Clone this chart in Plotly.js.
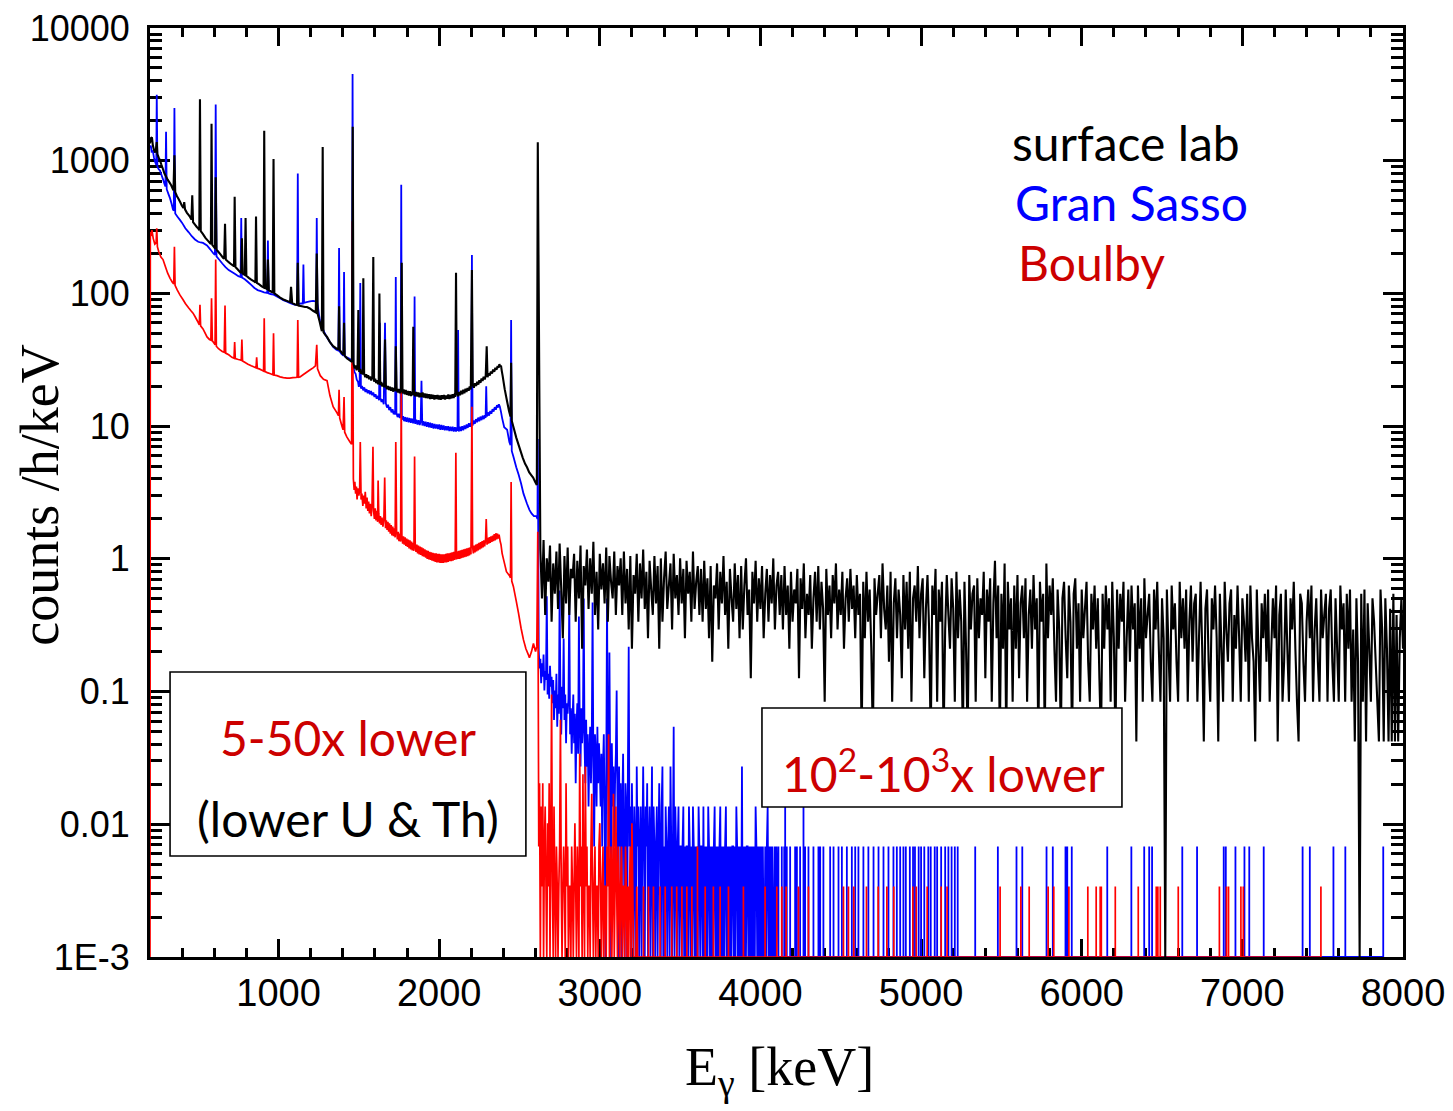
<!DOCTYPE html>
<html><head><meta charset="utf-8">
<script src="https://cdn.plot.ly/plotly-3.0.1.min.js"></script>
<style>html,body{margin:0;padding:0;background:#fff}#chart{width:1453px;height:1111px}</style>
</head><body><div id="chart"></div>
<script>
// ---------- DATA ----------
// Low-energy part: [energy keV, counts/h/keV]
const blackLow = [[200,1350],[206,1480],[212,1500],[218,1300],[225,1200],[232,1150],[238,1250],[242,1380],[246,1120],[255,1050],[262,1010],[270,940],[280,870],[290,800],[300,760],[310,720],[320,690],[330,660],[340,620],[346,600],[352,1100],[357,580],[368,540],[378,515],[387,490],[398,460],[408,440],[413,488],[418,430],[430,405],[440,390],[449,377],[458,360],[463,550],[468,345],[480,330],[490,318],[499,310],[507,300],[511,2900],[516,295],[530,280],[545,262],[560,250],[573,240],[579,236],[583,1900],[588,232],[600,222],[605,218],[609,750],[614,214],[625,206],[640,196],[654,186],[662,183],[667,335],[672,180],[690,172],[705,166],[718,162],[723,160],[727,535],[732,158],[745,152],[760,145],[768,143],[772,260],[777,141],[790,138],[795,370],[800,136],[815,131],[830,127],[845,124],[856,121],[860,380],[865,120],[880,117],[895,113],[907,111],[911,1680],[916,110],[928,108],[934,180],[940,106],[955,103],[964,102],[969,1030],[974,100],[990,97],[1010,93],[1030,90],[1050,88],[1072,86],[1078,112],[1085,85],[1100,83],[1115,82],[1120,170],[1125,81],[1145,80],[1165,79],[1177,79],[1195,77],[1215,74],[1232,72],[1238,200],[1244,70],[1255,62],[1265,55],[1270,52],[1275,1270],[1280,51],[1290,49],[1302,47],[1320,43],[1340,40],[1360,38.5],[1373,38],[1377,80],[1381,37.5],[1395,35.5],[1404,34.5],[1408,60],[1412,34],[1425,32.5],[1440,31.5],[1457,30.5],[1462,1800],
[1467,29.5],[1474,27.2],[1480,28.6],[1486,26.4],[1492,27.5],[1497,75],[1502,25.6],[1508,26.9],[1515,24.8],[1520,26.1],[1524,24.5],[1528,130],[1533,24.9],[1540,23.4],[1546,24.6],[1552,23.1],[1558,24.2],[1564,22.6],[1570,23.7],[1577,22.1],[1584,23.2],[1590,188],[1595,21.6],[1602,22.8],[1608,21.1],[1614,22.2],[1620,20.7],[1624,21.8],[1628,100],[1633,20.4],[1640,21.5],[1646,19.9],[1652,21.0],[1658,19.6],[1663,45],[1668,20.5],[1675,19.0],[1682,20.1],[1688,18.7],[1694,19.8],[1700,18.5],[1707,19.6],[1713,18.2],[1720,19.4],[1726,18.3],[1730,40],[1735,19.2],[1742,17.9],[1748,19.0],[1755,17.7],[1762,18.8],[1767,170],[1772,17.6],[1779,18.9],[1786,17.4],[1792,18.7],[1799,17.2],[1805,18.4],[1812,17.0],[1818,18.3],[1825,16.9],[1831,18.2],[1835,17.1],[1839,56],[1844,18.0],[1850,16.8],[1857,18.1],[1864,16.7],[1870,17.9],[1877,16.5],[1884,17.8],[1890,16.6],[1897,17.9],[1904,16.4],[1910,17.6],[1917,16.3],[1924,17.5],[1930,16.2],[1937,17.4],[1944,16.0],[1950,17.3],[1957,16.1],[1964,17.2],[1970,15.9],[1977,17.1],[1984,16.0],[1990,17.2],[1997,15.9],[2004,17.0],[2010,15.8],[2017,17.1],[2024,16.0],[2030,17.2],[2037,15.9],[2044,17.0],[2050,16.1],[2057,17.3],[2064,16.0],[2070,17.2],[2077,16.2],[2084,17.4],[2090,16.3],[2097,17.5],[2100,16.6],[2105,143],[2110,17.7],[2117,16.8],[2124,18.1],[2130,17.1],[2137,18.5],[2144,17.4],[2150,18.8],[2157,17.7],[2164,19.1],[2170,18.1],[2177,19.4],[2184,18.5],[2190,19.9],[2197,18.9],[2204,150],[2209,20.4],[2216,19.5],[2223,21.0],[2230,20.1],[2237,21.6],[2244,20.6],[2250,22.2],[2257,21.2],[2264,22.8],[2270,21.9],[2277,23.5],[2284,22.5],[2290,24.1],[2296,40],[2301,23.4],[2308,25.0],[2315,24.1],[2322,25.8],[2329,24.9],[2336,26.7],[2343,25.7],[2350,27.5],[2357,26.6],[2364,28.4],[2370,27.5],[2375,29.3],[2380,28.0],[2385,28.6],[2390,26],[2395,24],
[2408,19],[2420,16],[2435,13],[2444,11.8],[2448,30],[2452,11],[2465,9.6],[2480,8.2],[2495,7.2],[2505,6.6],[2520,5.8],[2535,5.2],[2547,4.9],[2560,4.5],[2572,4.3],[2585,4.1],[2598,3.8],[2608,3.6],[2614,1380]];

const blueLow = [[200,1250],[205,1300],[210,1170],[218,1180],[225,1050],[232,980],[239,930],[242,3140],[246,900],[255,860],[262,845],[270,790],[280,730],[288,680],[296,640],[300,1650],[304,610],[315,560],[325,520],[335,470],[343,430],[348,420],[352,2500],[357,400],[370,380],[385,360],[400,340],[420,310],[440,290],[460,270],[480,255],[500,245],[515,242],[530,240],[555,230],[575,215],[595,200],[604,195],[609,2650],[614,190],[630,180],[650,168],[670,158],[690,150],[710,145],[730,140],[750,135],[764,133],[768,370],[772,132],[790,128],[810,122],[830,116],[850,110],[870,106],[890,104],[910,102],[930,101],[934,250],[938,100],[950,99],[970,98],[990,95],[1010,92],[1030,89],[1050,87],[1070,85],[1090,83],[1105,82],[1116,82],[1120,800],[1124,83],[1140,84],[1151,84],[1155,165],[1159,85],[1175,86],[1195,87],[1215,88],[1230,87],[1235,87],[1238,370],[1242,85],[1250,72],[1258,62],[1270,56],[1285,51],[1300,47],[1320,43],[1340,39.5],[1360,37.6],[1373,37],[1377,220],[1381,36.5],[1392,35],[1404,34],[1408,145],[1412,33.5],[1425,33],[1445,32],[1457,31.5],[1461,4500],
[1466,28],[1473,25.5],[1480,24.8],[1487,22.4],[1495,21.6],[1500,19.8],[1505,20.6],[1509,120],[1513,19.2],[1520,20.1],[1527,18.6],[1534,19.6],[1541,18.1],[1548,19.0],[1555,17.7],[1562,18.6],[1569,17.4],[1576,18.4],[1583,17.1],[1590,17.9],[1597,16.6],[1604,17.4],[1611,16.1],[1618,16.9],[1626,15.7],[1630,60],[1634,16.4],[1641,15.2],[1648,15.9],[1655,14.6],[1663,60],[1668,14.9],[1675,13.8],[1682,14.5],[1689,13.2],[1696,13.9],[1703,12.7],[1710,13.4],[1717,12.3],[1722,13.0],[1726,12.2],[1730,133],[1734,12.6],[1741,11.7],[1748,12.4],[1755,11.5],[1760,12.1],[1764,660],[1768,11.2],[1775,11.9],[1782,10.9],[1789,11.7],[1796,10.8],[1803,11.6],[1810,10.7],[1817,11.5],[1824,10.6],[1831,11.4],[1838,10.5],[1843,11.1],[1847,95],[1851,10.4],[1858,11.2],[1865,10.3],[1872,11.1],[1879,10.2],[1885,10.9],[1890,22],[1895,10.1],[1902,10.9],[1909,10.0],[1916,10.8],[1923,9.9],[1930,10.7],[1937,9.8],[1944,10.6],[1951,9.7],[1958,10.5],[1965,9.6],[1972,10.4],[1979,9.6],[1986,10.3],[1993,9.5],[2000,10.3],[2007,9.4],[2014,10.2],[2021,9.4],[2028,10.1],[2035,9.3],[2042,10.0],[2049,9.3],[2056,10.0],[2063,9.2],[2070,9.9],[2077,9.2],[2084,9.9],[2091,9.1],[2098,9.8],[2105,9.1],[2110,9.8],[2114,9.2],[2118,53],[2122,9.1],[2129,9.9],[2136,9.2],[2143,10.0],[2150,9.3],[2157,10.1],[2164,9.5],[2171,10.3],[2178,9.7],[2185,10.5],[2192,9.9],[2200,10.7],[2204,195],[2208,10.1],[2215,11.0],[2222,10.4],[2229,11.3],[2236,10.7],[2243,11.6],[2250,10.9],[2257,11.8],[2264,11.1],[2271,12.0],[2278,11.3],[2285,12.1],[2289,11.5],[2293,20],[2297,11.8],[2304,12.7],[2311,12.0],[2318,13.0],[2325,12.4],[2332,13.4],[2339,12.9],[2346,13.9],[2353,13.3],[2360,14.4],[2366,13.8],[2372,14.6],[2378,14.0],[2385,12.8],[2392,11.5],
[2405,9.8],[2423,9.4],[2437,7.6],[2444,7.2],[2448,63],[2452,6.5],[2462,5.9],[2480,4.9],[2495,4.3],[2510,3.7],[2525,3.1],[2547,2.6],[2562,2.34],[2575,2.2],[2590,2.1],[2605,2.1],[2612,2.0],[2614,8]];

const redLow = [[200,0.001],[202,290],[206,270],[212,300],[220,260],[230,235],[238,240],[242,310],[246,225],[255,205],[268,188],[281,180],[295,160],[310,142],[325,130],[340,121],[348,118],[352,225],[356,115],[370,106],[387,97],[405,90],[420,84],[440,78],[455,74],[468,71],[480,67],[495,62],[507,58],[511,82],[515,57],[530,54],[555,47],[570,45],[579,44.5],[583,92],[588,44],[600,42],[605,41],[609,180],[613,40],[625,38.5],[636,37.6],[650,36.5],[662,36],[667,81],[671,35.5],[690,34.5],[710,33],[723,32.5],[727,43],[731,32.3],[750,31.8],[762,31.6],[768,31.4],[772,45],[776,31],[795,30],[810,29.3],[830,28.5],[845,28],[860,27.5],[864,33],[868,27.3],[880,27],[900,26.3],[907,26],[911,65],[915,25.8],[930,25.3],[950,24.8],[965,24.4],[969,50],[973,24.3],[990,24],[1010,23.5],[1030,23.2],[1053,23],[1070,23],[1090,23.2],[1110,23.3],[1116,23.4],[1120,63],[1125,23.4],[1134,23.5],[1155,24.5],[1175,25.5],[1195,26.5],[1215,27.5],[1230,28.5],[1238,41],[1243,27],[1260,24],[1280,22.5],[1302,22],[1320,17],[1340,14],[1364,12.6],[1373,12],[1377,18.8],[1381,11.5],[1395,10],[1402,9.4],[1408,16.6],[1412,9],[1425,8.3],[1445,7.6],[1455,7.3],[1460,350],
[1466,4],[1471,3.3],[1475,3.8],[1480,3.1],[1485,3.5],[1489,2.8],[1494,3.4],[1500,3.0],[1505,3.3],[1509,7.6],[1514,2.8],[1519,3.1],[1525,2.5],[1530,3.0],[1535,2.6],[1540,3.2],[1546,2.4],[1551,2.9],[1556,2.3],[1561,2.7],[1566,2.2],[1571,2.6],[1577,2.1],[1582,2.5],[1588,7],[1592,2.3],[1597,2.0],[1602,2.4],[1607,1.95],[1612,2.3],[1617,1.9],[1620,3.9],[1624,2.2],[1629,1.85],[1634,2.1],[1639,1.8],[1644,2.05],[1650,1.75],[1656,2.0],[1661,4.1],[1666,1.7],[1671,1.95],[1676,1.65],[1681,1.9],[1686,1.6],[1691,1.85],[1696,1.55],[1701,1.8],[1706,1.5],[1711,1.75],[1716,1.48],[1721,1.7],[1726,1.45],[1730,7.6],[1735,1.62],[1740,1.4],[1745,1.6],[1750,1.36],[1755,1.55],[1760,1.35],[1764,18.8],[1768,1.5],[1773,1.3],[1778,1.48],[1783,1.28],[1788,1.45],[1793,1.25],[1798,1.42],[1803,1.23],[1808,1.4],[1813,1.2],[1818,1.38],[1823,1.18],[1828,1.35],[1833,1.16],[1838,1.32],[1843,1.15],[1847,5.9],[1851,1.3],[1856,1.13],[1861,1.28],[1866,1.1],[1871,1.26],[1876,1.08],[1881,1.24],[1886,1.07],[1891,1.22],[1896,1.05],[1901,1.2],[1906,1.04],[1911,1.18],[1916,1.02],[1921,1.16],[1926,1.0],[1931,1.15],[1936,0.99],[1941,1.13],[1946,0.98],[1951,1.12],[1956,0.97],[1961,1.11],[1966,0.96],[1971,1.1],[1976,0.95],[1981,1.1],[1986,0.94],[1991,1.09],[1996,0.94],[2001,1.09],[2006,0.93],[2011,1.08],[2016,0.93],[2021,1.08],[2026,0.93],[2031,1.08],[2036,0.94],[2041,1.09],[2046,0.94],[2051,1.1],[2056,0.95],[2061,1.1],[2066,0.96],[2071,1.11],[2076,0.96],[2081,1.12],[2086,0.97],[2091,1.13],[2096,0.98],[2100,1.1],[2104,6.3],[2108,0.99],[2113,1.14],[2118,1.0],[2123,1.15],[2128,1.0],[2133,1.16],[2138,1.01],[2143,1.17],[2148,1.02],[2153,1.18],[2158,1.03],[2163,1.19],[2168,1.04],[2173,1.2],[2178,1.05],[2183,1.21],[2188,1.06],[2193,1.22],[2198,1.08],[2204,14],[2208,1.24],[2213,1.1],[2218,1.26],[2223,1.12],[2228,1.28],[2233,1.14],[2238,1.3],[2243,1.16],[2248,1.32],[2253,1.18],[2258,1.34],[2263,1.2],[2268,1.36],[2273,1.22],[2278,1.38],[2283,1.24],[2289,1.4],[2293,2.0],[2298,1.28],[2303,1.44],[2308,1.3],[2313,1.46],[2318,1.32],[2323,1.48],[2328,1.34],[2333,1.5],[2338,1.36],[2343,1.54],[2348,1.38],[2353,1.56],[2358,1.4],[2363,1.55],[2368,1.42],[2373,1.52],[2380,1.35],[2385,1.28],[2392,1.1],[2400,1.0],
[2419,0.8],[2437,0.75],[2444,0.72],[2448,3.8],[2452,0.68],[2462,0.62],[2480,0.48],[2494,0.39],[2510,0.3],[2525,0.245],[2540,0.21],[2555,0.19],[2562,0.18],[2575,0.2],[2587,0.23],[2600,0.2],[2608,0.22],[2614,1.6]];

// High-energy tails, stored as counts per channel (channel grid: start + i*step keV)
const blackTailStart = 2630, blackTailStep = 10, blackCountUnit = 0.042;
const blackTailCounts = [
28,12,33,9,24,16,30,8,22,13, 27,10,31,14,6,25,11,29,9,20, 17,26,8,23,12,30,5,21,15,28, 10,24,13,32,9,19,7,26,14,22, 11,29,8,25,16,12,27,9,21,15,
24,9,27,11,20,7,25,5,18,13, 26,8,22,12,28,10,19,6,23,14, 9,25,11,21,5,24,8,17,27,10, 15,22,7,26,12,18,9,24,11,20, 6,23,13,19,8,27,10,16,21,9,
20,8,23,10,17,6,21,4,15,12, 22,7,19,11,25,9,16,5,20,12, 8,22,10,18,6,21,7,15,24,9, 14,3,19,11,23,8,17,10,21,6, 13,20,8,18,11,24,7,15,19,9,
18,7,21,9,15,5,19,8,14,11, 20,3,17,10,22,6,13,9,18,5, 12,19,8,21,7,16,10,2,20,9, 15,6,18,11,22,7,14,9,19,5, 12,17,8,20,10,15,6,18,9,13,
1,16,6,19,8,14,5,1,17,9, 13,18,6,22,10,7,15,4,19,2, 11,17,6,14,9,3,18,7,16,5, 19,2,12,15,8,21,6,13,17,3, 10,18,7,1,15,9,20,2,14,8,
16,1,7,18,9,5,17,10,2,19, 6,14,8,1,16,5,1,18,7,13, 15,2,17,6,12,9,19,3,14,8, 17,2,11,23,6,15,1,13,5,22, 1,16,7,12,2,15,5,18,3,11,
15,6,17,2,9,14,5,18,7,12, 1,16,8,13,1,22,6,15,9,17, 5,2,14,7,1,12,16,6,3,15, 8,1,13,17,5,11,2,14,6,10, 16,4,2,13,7,15,5,12,3,1,
13,5,15,7,12,2,16,6,1,14, 5,13,8,16,2,6,14,4,15,7, 11,1,15,5,12,2,17,6,9,13, 4,2,14,7,16,5,2,12,6,0, 14,5,2,15,7,11,4,2,16,6,
12,5,14,2,8,15,4,11,13,2, 6,16,5,1,10,14,4,2,12,7, 15,6,1,13,5,2,16,7,4,11, 14,2,9,5,15,6,2,12,8,4, 13,2,15,6,4,1,14,5,2,11,
6,13,4,14,2,5,12,6,15,1, 9,13,2,4,14,5,2,12,7,16, 5,2,1,13,11,4,2,8,14,6, 15,2,7,12,4,2,14,6,9,13, 2,10,14,4,2,12,5,2,15,7,
11,2,13,5,14,2,7,1,12,4, 0,13,2,14,1,11,5,2,12,8, 4,2,1,14,7,1,12,5,1,10, 1,13,1,9,1,6,12,5];

const blueTailStart = 2620, blueTailStep = 5, blueCountUnit = 0.0068;
const blueTailCounts = [
30,22,26,17,24,19,28,15,21,18,77,14,20,13,23,16,19,
12,18,9,15,11,20,8,14,10,85,13,7,16,11,37,9,14,6,12,10,
13,72,7,11,5,9,14,6,10,3,8,12,5,54,9,4,11,6,8,74,
6,3,9,4,7,2,5,8,3,6,69,4,1,7,5,2,8,3,6,4,
2,5,1,4,7,2,0,3,74,5,1,29,3,0,6,2,4,1,3,5,
15,2,0,4,1,3,0,2,5,1,0,3,2,0,4,32,1,2,0,3,
1,0,2,1,0,4,1,2,0,1, 2,0,1,4,1,0,2,1,3,0, 1,2,0,1,4,0,2,1,0,1, 2,0,1,3,1,0,2,4,0,1, 0,2,1,0,1,2,0,4,1,0, 1,8,0,2,1,0,1,2,0,1,
1,0,1,2,0,1,0,1,1,0, 2,1,0,1,0,2,1,0,1,0, 1,0,2,1,0,1,1,0,2,0, 1,0,1,0,2,1,0,1,0,1, 0,1,2,0,1,0,1,0,1,2, 0,1,0,1,0,1,2,0,1,0,
1,0,1,0,1,1,0,1,0,2, 1,0,1,0,1,0,4,0,1,0, 1,0,1,1,0,1,0,1,0,1, 0,1,0,2,1,0,1,0,1,0, 1,0,1,0,0,1,0,1,2,0, 1,0,1,0,1,0,0,1,0,1];
// isolated single-channel hits beyond the dense part: [energy keV, counts]
const blueSpikes = [[4112,1],[4133,1],[4148,1],[4154,2],[4164,1],[4185,1],[4216,1],[4227,1],[4247,1],[4268,2],[4278,1],[4299,1],[4330,1],[4361,1],[4372,1],[4392,1],[4434,1],[4455,1],[4486,1],[4507,1],[4538,1],[4569,1],[4590,1],[4610,1],[4641,1],[4672,1],[4704,1],[4735,1],[4766,1],[4797,1],[4828,1],[4849,1],[4870,1],[4890,1],[4905,1],[4930,1],[4950,1],[4962,1],[4985,1],[5000,1],[5020,1],[5045,1],[5060,1],[5085,1],[5100,1],[5125,1],[5150,1],[5170,1],[5190,1],[5210,1],[5228,1],[5337,1],[5478,1],[5594,1],[5630,1],[5781,1],[5820,1],[5899,1],[5910,1],[5938,1],[6159,1],[6309,1],[6389,1],[6420,1],[6438,1],[6626,1],[6718,1],[6884,1],[6897,1],[6957,1],[7013,1],[7043,1],[7133,1],[7375,1],[7420,1],[7567,1],[7641,1],[7877,1]];
const blueEnd = 7880;

const redTailStart = 2620, redTailStep = 5, redCountUnit = 0.0034;
const redTailCounts = [
2,6,0,4,1,6,0,2,4,1,0,3,1,6,0,2,28,1,0,4,
1,0,2,1,0,1,2,18,1,0,1,2,1,0,6,1,2,0,1,1,
0,2,1,0,1,3,1,0,2,1,0,10,1,2,0,7,1,0,8,1,
2,0,1,1,0,2,5,1,0,1,2,0,1,1,0,2,3,1,0,1,
2,0,1,1,0,2,1,14,0,1,2,0,1,5,0,1,4,1,0,2,
1,0,1,2,0,1,1,0,2,1,0,1,0,1,2,0,3,1,0,0,
0,0,1,0,0,0,0];
const redSpikes = [[3272,1],[3303,1],[3334,1],[3375,1],[3407,1],[3448,1],[3479,1],[3511,1],[3542,1],[3573,1],[3608,2],[3656,1],[3707,1],[3749,1],[3801,1],[3894,1],[4029,1],[4102,1],[4133,1],[4160,1],[4237,1],[4299,1],[4517,1],[4548,1],[4581,1],[4660,1],[4733,1],[4787,1],[4830,1],[4949,1],[4970,1],[5038,1],[5125,1],[5162,1],[5492,1],[5621,1],[5673,1],[5791,1],[5826,1],[5920,1],[6038,1],[6090,1],[6115,1],[6122,1],[6209,1],[6352,1],[6464,1],[6474,1],[6489,1],[6601,1],[6857,1],[6901,1],[6914,1],[6991,1],[7006,1],[7489,1]];
const redEnd = 7490;

const xTickVals = [1000,2000,3000,4000,5000,6000,7000,8000];
const yTickVals = [0.001,0.01,0.1,1,10,100,1000,10000];
const yTickText = ['1E-3','0.01','0.1','1','10','100','1000','10000'];
const seriesNames = ['surface lab','Gran Sasso','Boulby'];

// ---------- BUILD ----------
const FLOOR = 0.001; // zero counts drawn on the axis floor
function buildSeries(low, tStart, tStep, counts, unit, spikes, endE){
  const x=[], y=[];
  low.forEach(p=>{x.push(p[0]); y.push(p[1]);});
  counts.forEach((c,i)=>{x.push(tStart+i*tStep); y.push(c>0?c*unit:FLOOR);});
  if (spikes) spikes.forEach(s=>{x.push(s[0],s[0],s[0]); y.push(FLOOR,s[1]*unit,FLOOR);});
  if (endE){x.push(endE); y.push(FLOOR);}
  return {x,y};
}
const blk = buildSeries(blackLow, blackTailStart, blackTailStep, blackTailCounts, blackCountUnit, null, null);
const blu = buildSeries(blueLow, blueTailStart, blueTailStep, blueTailCounts, blueCountUnit, blueSpikes, blueEnd);
const red = buildSeries(redLow, redTailStart, redTailStep, redTailCounts, redCountUnit, redSpikes, redEnd);

const traces = [
  {x:blu.x, y:blu.y, name:seriesNames[1], mode:'lines', line:{color:'#0000ff', width:1.8, simplify:false}},
  {x:red.x, y:red.y, name:seriesNames[2], mode:'lines', line:{color:'#ff0000', width:1.7, simplify:false}},
  {x:blk.x, y:blk.y, name:seriesNames[0], mode:'lines', line:{color:'#000000', width:2.1, simplify:false}}
];

const xMinor=[]; for(let e=200;e<8000;e+=200){ if(e%1000!==0) xMinor.push(e); }
const yMinor=[]; for(let k=-3;k<4;k++){ for(let m=2;m<10;m++) yMinor.push(m*Math.pow(10,k)); }

const annFont = 'Lato, "Open Sans", sans-serif';
const layout = {
  width:1453, height:1111,
  margin:{l:150, r:50, t:28, b:154},
  paper_bgcolor:'#fff', plot_bgcolor:'#fff',
  showlegend:false,
  xaxis:{range:[200,8000], tickmode:'array', tickvals:xTickVals, ticktext:xTickVals.map(String),
    ticks:'inside', ticklen:18, tickwidth:3, tickcolor:'#000',
    showline:true, linewidth:3, linecolor:'#000', mirror:'allticks', showgrid:false, zeroline:false,
    tickfont:{family:'"Liberation Sans", Arial, sans-serif', size:38, color:'#000'},
    ticklabelstandoff:0, layer:'below traces',
    minor:{tickmode:'array', tickvals:xMinor, ticks:'inside', ticklen:9, tickwidth:3, tickcolor:'#000', showgrid:false}},
  yaxis:{type:'log', range:[-3,4], tickmode:'array', tickvals:yTickVals, ticktext:yTickText,
    ticks:'inside', ticklen:20, tickwidth:3, tickcolor:'#000',
    showline:true, linewidth:3, linecolor:'#000', mirror:'allticks', showgrid:false, zeroline:false,
    tickfont:{family:'"Liberation Sans", Arial, sans-serif', size:36, color:'#000'},
    ticklabelstandoff:10, layer:'below traces',
    minor:{tickmode:'array', tickvals:yMinor, ticks:'inside', ticklen:12, tickwidth:3, tickcolor:'#000', showgrid:false}},
  shapes:[
    {type:'rect', xref:'paper', yref:'paper', x0:0.016, x1:0.300, y0:0.1087, y1:0.3068, line:{color:'#000', width:1.6}, fillcolor:'#fff', layer:'above'},
    {type:'rect', xref:'paper', yref:'paper', x0:0.4884, x1:0.7757, y0:0.1615, y1:0.268, line:{color:'#000', width:1.6}, fillcolor:'#fff', layer:'above'}
  ],
  annotations:[
    {text:seriesNames[0], xref:'paper', yref:'paper', x:0.6864, y:0.877, xanchor:'left', yanchor:'middle', showarrow:false, font:{family:annFont, size:48, color:'#000'}},
    {text:seriesNames[1], xref:'paper', yref:'paper', x:0.6887, y:0.8125, xanchor:'left', yanchor:'middle', showarrow:false, font:{family:annFont, size:48, color:'#0000ff'}},
    {text:seriesNames[2], xref:'paper', yref:'paper', x:0.6911, y:0.748, xanchor:'left', yanchor:'middle', showarrow:false, font:{family:annFont, size:48, color:'#cc0000'}},
    {text:'5-50x lower', xref:'paper', yref:'paper', x:0.158, y:(957-737)/929, xanchor:'center', yanchor:'middle', showarrow:false, font:{family:annFont, size:48, color:'#cc0000'}},
    {text:'(lower U &amp; Th)', xref:'paper', yref:'paper', x:0.158, y:(957-818)/929, xanchor:'center', yanchor:'middle', showarrow:false, font:{family:annFont, size:48, color:'#000'}},
    {text:'10<sup>2</sup>-10<sup>3</sup>x lower', xref:'paper', yref:'paper', x:0.633, y:(957-770)/929, xanchor:'center', yanchor:'middle', showarrow:false, font:{family:annFont, size:48, color:'#cc0000'}},
    {text:'counts /h/keV', xref:'paper', yref:'paper', x:-0.0874, y:0.497, xanchor:'center', yanchor:'middle', textangle:-90, showarrow:false, font:{family:'"Liberation Serif", "Times New Roman", serif', size:54, color:'#000'}},
    {text:'E<sub>γ</sub> [keV]', xref:'paper', yref:'paper', x:0.502, y:-0.084, xanchor:'center', yanchor:'top', showarrow:false, font:{family:'"Liberation Serif", "Times New Roman", serif', size:54, color:'#000'}}
  ]
};
Plotly.newPlot('chart', traces, layout, {displayModeBar:false, staticPlot:true});
</script></body></html>
